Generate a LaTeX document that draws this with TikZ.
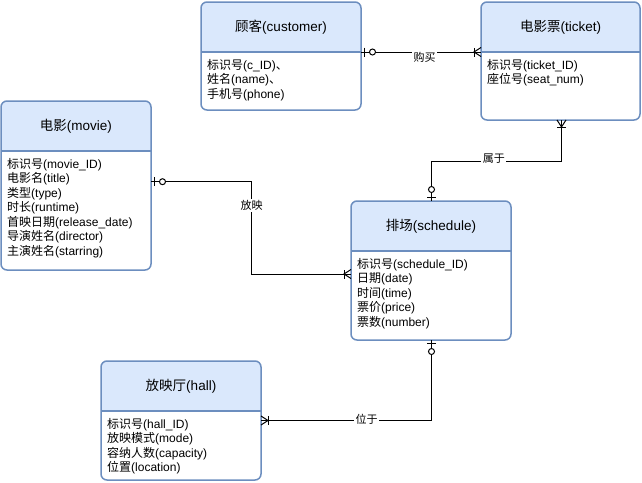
\documentclass[tikz,border=0pt]{standalone}
\usepackage{fontspec}
\setmainfont{Liberation Sans}
\newfontfamily\cjk{Noto Sans CJK SC}
\newcommand{\zh}[1]{{\cjk #1}}
\usetikzlibrary{calc}
\definecolor{hdrfill}{HTML}{DAE8FC}
\definecolor{hdrline}{HTML}{6C8EBF}
\tikzset{
  entbox/.style={draw=none, fill=white, rounded corners=6pt, inner sep=0pt, outer sep=0pt},
  entline/.style={draw=hdrline, line width=1.5pt},
  enttitle/.style={inner sep=0pt, font=\fontsize{13.5}{16}\selectfont},
  entattr/.style={inner sep=0pt, align=left, anchor=north west, font=\fontsize{12}{14.5}\selectfont},
  conn/.style={draw=black, line width=1pt},
  rellabel/.style={fill=white, inner sep=1.5pt, font=\fontsize{11}{13}\selectfont}
}
\newcommand{\entity}[7]{%
  \node[entbox, minimum width=#4pt, minimum height=#5pt, anchor=north west] (#1) at (#2,#3) {};
  \fill[hdrfill] ([yshift=-50pt]#1.north west) {[rounded corners=6pt] -- (#1.north west) -- (#1.north east)} -- ([yshift=-50pt]#1.north east) -- cycle;
  \draw[entline] ([yshift=-50pt]#1.north west) -- ([yshift=-50pt]#1.north east);
  \draw[entline, rounded corners=6pt] (#1.south west) rectangle (#1.north east);
  \node[enttitle] (#1-t) at ([yshift=-25pt]#1.north) {#6};
  \node[entattr] (#1-a) at ([xshift=6pt,yshift=-57pt]#1.north west) {#7};
}
\newcommand{\zeroone}[2]{\begin{scope}[shift={(#1)},rotate=#2]
  \draw[conn] (3.5,-4.5)--(3.5,4.5);
  \draw[conn,fill=white] (11.5,0) circle[radius=3];
\end{scope}}
\newcommand{\onemany}[2]{\begin{scope}[shift={(#1)},rotate=#2]
  \draw[conn] (7,-4.5)--(7,4.5);
  \draw[conn] (0,-4.5)--(7,0)--(0,4.5);
\end{scope}}
\begin{document}
\begin{tikzpicture}[x=1pt,y=-1pt]
\useasboundingbox[fill=white] (0,0) rectangle (642,482);

\entity{cust}{201}{2}{160}{108}{\zh{顾客}(customer)}{\zh{标识号}(c\_ID)\zh{、}\\\zh{姓名}(name)\zh{、}\\\zh{手机号}(phone)}
\entity{ticket}{481}{2}{159}{118}{\zh{电影票}(ticket)}{\zh{标识号}(ticket\_ID)\\\zh{座位号}(seat\_num)}
\entity{movie}{1}{101}{150}{169}{\zh{电影}(movie)}{\zh{标识号}(movie\_ID)\\\zh{电影名}(title)\\\zh{类型}(type)\\\zh{时长}(runtime)\\\zh{首映日期}(release\_date)\\\zh{导演姓名}(director)\\\zh{主演姓名}(starring)}
\entity{sched}{351}{201}{160}{139}{\zh{排场}(schedule)}{\zh{标识号}(schedule\_ID)\\\zh{日期}(date)\\\zh{时间}(time)\\\zh{票价}(price)\\\zh{票数}(number)}
\entity{hall}{101}{361}{160}{119}{\zh{放映厅}(hall)}{\zh{标识号}(hall\_ID)\\\zh{放映模式}(mode)\\\zh{容纳人数}(capacity)\\\zh{位置}(location)}

% endpoints
\coordinate (buyA) at ([yshift=-50pt]cust.north east);
\coordinate (buyB) at ([yshift=-50pt]ticket.north west);
\coordinate (belA) at ([xshift=1pt]ticket.south);
\coordinate (belB) at ([xshift=0.5pt]sched.north);
\coordinate (showA) at ([yshift=-80.7pt]movie.north east);
\coordinate (showB) at ([yshift=-3.5pt]sched.west);
\coordinate (locA) at ([xshift=0.5pt]sched.south);
\coordinate (locB) at (hall.east);

% connectors
\draw[conn] (buyA) -- node[rellabel, pos=0.53, yshift=-5pt] (buyL) {\zh{购买}} (buyB);
\draw[conn] (belA) -- ++(0,41) -| node[rellabel, pos=0.26, yshift=2.5pt] (belL) {\zh{属于}} (belB);
\draw[conn] (showA) -- ++(100.7,0) |- node[rellabel, pos=0.13] (showL) {\zh{放映}} (showB);
\draw[conn] (locA) |- node[rellabel, pos=0.69, yshift=1.5pt] (locL) {\zh{位于}} (locB);

% markers
\zeroone{buyA}{0}
\onemany{buyB}{180}
\onemany{belA}{-90}
\zeroone{belB}{90}
\zeroone{showA}{0}
\onemany{showB}{180}
\zeroone{locA}{-90}
\onemany{locB}{0}
\end{tikzpicture}
\end{document}
